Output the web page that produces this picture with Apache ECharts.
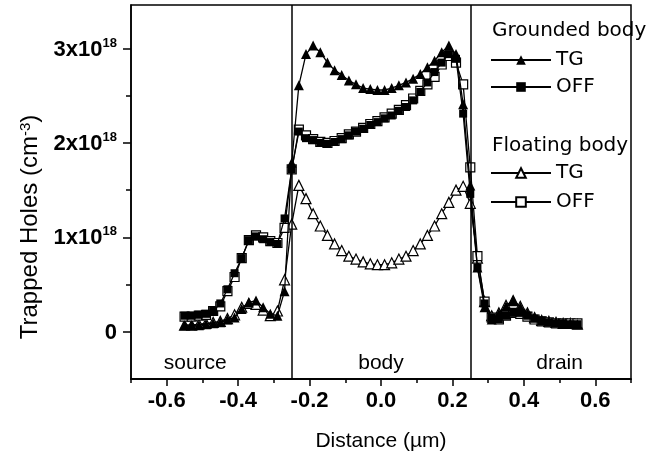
<!DOCTYPE html>
<html><head><meta charset="utf-8">
<script src="https://cdn.jsdelivr.net/npm/echarts@6/dist/echarts.min.js"></script>
<style>html,body{margin:0;padding:0;background:#fff}#c{width:668px;height:458px}</style>
</head><body><div id="c"></div>
<script>
// Distance (µm)
const xs = [-0.55,-0.53,-0.51,-0.49,-0.47,-0.45,-0.43,-0.41,-0.39,-0.37,-0.35,-0.33,-0.31,-0.29,-0.27,-0.25,-0.23,-0.21,-0.19,-0.17,-0.15,-0.13,-0.11,-0.09,-0.07,-0.05,-0.03,-0.01,0.01,0.03,0.05,0.07,0.09,0.11,0.13,0.15,0.17,0.19,0.21,0.23,0.25,0.27,0.29,0.31,0.33,0.35,0.37,0.39,0.41,0.43,0.45,0.47,0.49,0.51,0.53,0.55];
// Trapped holes, units of 1e18 cm^-3
const groundedTG = [0.07,0.07,0.07,0.08,0.09,0.10,0.13,0.15,0.24,0.31,0.33,0.26,0.19,0.17,0.43,1.79,2.61,2.94,3.03,2.96,2.85,2.77,2.72,2.66,2.62,2.58,2.57,2.56,2.56,2.58,2.61,2.64,2.68,2.73,2.80,2.87,2.96,3.03,2.94,2.41,1.55,0.68,0.26,0.13,0.19,0.27,0.33,0.26,0.19,0.15,0.12,0.11,0.10,0.09,0.09,0.08];
const groundedOFF = [0.17,0.17,0.18,0.19,0.22,0.30,0.45,0.62,0.78,0.97,1.01,0.98,0.95,0.93,1.20,1.72,2.12,2.05,2.03,2.00,1.99,2.01,2.04,2.08,2.12,2.15,2.19,2.22,2.26,2.29,2.34,2.38,2.45,2.54,2.64,2.75,2.85,2.94,2.89,2.31,1.46,0.68,0.30,0.15,0.13,0.17,0.20,0.20,0.17,0.14,0.12,0.10,0.09,0.09,0.08,0.08];
const floatingTG = [0.07,0.07,0.08,0.09,0.10,0.11,0.14,0.18,0.26,0.30,0.29,0.23,0.17,0.22,0.55,1.14,1.55,1.41,1.25,1.12,1.02,0.93,0.86,0.80,0.77,0.74,0.72,0.71,0.71,0.73,0.77,0.80,0.86,0.93,1.02,1.12,1.25,1.37,1.50,1.54,1.36,0.78,0.32,0.17,0.20,0.28,0.33,0.27,0.20,0.15,0.12,0.11,0.10,0.09,0.09,0.08];
const floatingOFF = [0.16,0.16,0.17,0.18,0.22,0.27,0.43,0.58,0.78,0.97,1.02,1.00,0.96,0.94,1.10,1.72,2.14,2.08,2.04,2.01,2.00,2.02,2.05,2.09,2.12,2.16,2.20,2.23,2.27,2.31,2.35,2.40,2.47,2.55,2.62,2.70,2.83,2.92,2.85,2.62,1.74,0.80,0.32,0.15,0.13,0.17,0.20,0.19,0.16,0.13,0.11,0.10,0.09,0.09,0.09,0.09];
const xMajorTicks = [-0.6,-0.4,-0.2,0.0,0.2,0.4,0.6];
const xMinorTicks = [-0.7,-0.5,-0.3,-0.1,0.1,0.3,0.5,0.7];
const yMajorTicks = [0,1,2,3];
const yMinorTicks = [0.5,1.5,2.5];
const dividers = [-0.25, 0.25];
const regions = [['source',-0.52],['body',0.0],['drain',0.5]];
const regionLabelY = -0.33;

const F = 'Liberation Sans, Arial, sans-serif';
const LF = 'DejaVu Sans, sans-serif';
const pair = arr => xs.map((x,i)=>[x,arr[i]]);
const black = '#000';
const lineStyle = {color: black, width: 1.3};

const chart = echarts.init(document.getElementById('c'), null, {renderer:'canvas'});
chart.setOption({
  animation: false,
  backgroundColor: '#fff',
  title: [
    {text:'Grounded body', left:492, top:21, padding:0, textStyle:{fontFamily:LF, fontSize:20, fontWeight:'normal', color:black}},
    {text:'Floating body', left:492, top:136, padding:0, textStyle:{fontFamily:LF, fontSize:20, fontWeight:'normal', color:black}}
  ],
  legend: [
    {data:['TG','OFF'], orient:'vertical', left:490, top:50, itemWidth:60, itemHeight:12, itemGap:7, padding:0,
     textStyle:{fontFamily:LF, fontSize:20, color:black}, formatter: n => n.trim()},
    {data:['TG ','OFF '], orient:'vertical', left:490, top:163, itemWidth:60, itemHeight:12, itemGap:9, padding:0,
     textStyle:{fontFamily:LF, fontSize:20, color:black}, formatter: n => n.trim()}
  ],
  grid: {left:131, right:37, top:5, bottom:79, show:true, borderColor:black, borderWidth:1.5, backgroundColor:'transparent'},
  xAxis: [
    {type:'value', min:-0.7, max:0.7, position:'bottom',
     axisLine:{show:true, onZero:false, lineStyle:{color:black, width:1.5}},
     axisTick:{show:true, customValues:xMajorTicks, length:7, lineStyle:{color:black, width:1.5}},
     axisLabel:{customValues:xMajorTicks, margin:11, fontFamily:F, fontSize:22, fontWeight:'bold', color:black,
       formatter: v => v.toFixed(1)},
     splitLine:{show:false},
     name:'Distance (µm)', nameLocation:'middle', nameGap:52,
     nameTextStyle:{fontFamily:F, fontSize:21, color:black}},
    {type:'value', min:-0.7, max:0.7, position:'bottom',
     axisLine:{show:true, onZero:false, lineStyle:{color:black, width:1.5}},
     axisTick:{show:true, customValues:xMinorTicks, length:4, lineStyle:{color:black, width:1.5}},
     axisLabel:{show:false}, splitLine:{show:false}}
  ],
  yAxis: [
    {type:'value', min:-0.5, max:3.46, position:'left',
     axisLine:{show:true, onZero:false, lineStyle:{color:black, width:1.5}},
     axisTick:{show:true, customValues:yMajorTicks, length:8, lineStyle:{color:black, width:1.5}},
     axisLabel:{customValues:yMajorTicks, margin:14, color:black,
       formatter: v => v === 0 ? '{a|0}' : '{a|' + v + 'x10}{s|18}',
       rich:{a:{fontFamily:F, fontSize:22, fontWeight:'bold', color:black, lineHeight:24, verticalAlign:'bottom'},
             s:{fontFamily:F, fontSize:13, fontWeight:'bold', color:black, lineHeight:24, verticalAlign:'top', padding:[0,0,6,0]}}},
     splitLine:{show:false},
     name:'Trapped Holes (cm{s|-3})', nameLocation:'middle', nameGap:87,
     nameTextStyle:{fontFamily:F, fontSize:24, color:black, padding:[0,70,0,0],
       rich:{s:{fontFamily:F, fontSize:15, color:black, verticalAlign:'top', padding:[0,0,8,0]}}}},
    {type:'value', min:-0.5, max:3.46, position:'left',
     axisLine:{show:false, onZero:false}, axisTick:{show:true, customValues:yMinorTicks, length:5, lineStyle:{color:black, width:1.5}},
     axisLabel:{show:false}, splitLine:{show:false}}
  ],
  series: [
    {name:'TG', type:'line', data:pair(groundedTG), symbol:'triangle', symbolSize:10,
     itemStyle:{color:black}, lineStyle: lineStyle, z:4,
     markLine:{silent:true, symbol:'none', label:{show:false},
       lineStyle:{color:black, width:1.5, type:'solid'},
       data: dividers.map(d => ({xAxis:d}))},
     markPoint:{symbol:'circle', symbolSize:0, silent:true,
       label:{show:true, position:'inside', formatter: p => p.name, fontFamily:F, fontSize:21, color:black},
       data: regions.map(r => ({name:r[0], coord:[r[1], regionLabelY]}))}},
    {name:'OFF', type:'line', data:pair(groundedOFF), symbol:'rect', symbolSize:8,
     itemStyle:{color:black}, lineStyle: lineStyle, z:4},
    {name:'TG ', type:'line', data:pair(floatingTG), symbol:'triangle', symbolSize:10,
     itemStyle:{color:'#fff', borderColor:black, borderWidth:1.2}, lineStyle: lineStyle, z:3},
    {name:'OFF ', type:'line', data:pair(floatingOFF), symbol:'rect', symbolSize:9,
     itemStyle:{color:'#fff', borderColor:black, borderWidth:1.2}, lineStyle: lineStyle, z:3}
  ]
});
</script></body></html>
